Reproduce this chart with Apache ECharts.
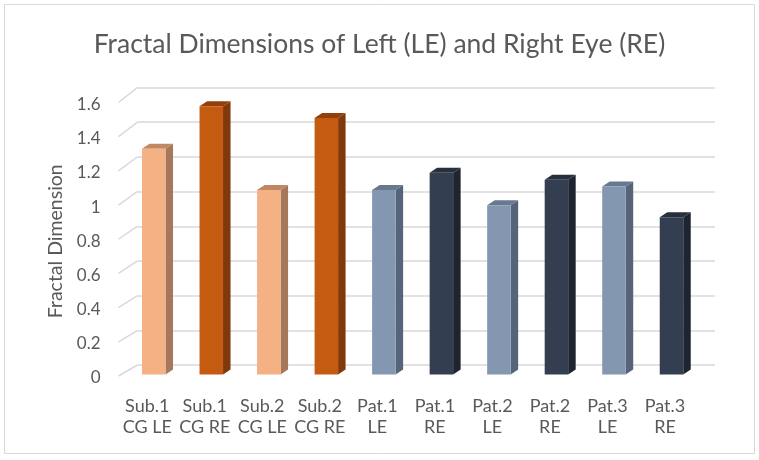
<!DOCTYPE html>
<html>
<head>
<meta charset="utf-8">
<title>Fractal Dimensions</title>
<script src="https://cdn.jsdelivr.net/npm/echarts@6/dist/echarts.min.js"></script>
<style>
  html, body { margin: 0; padding: 0; background: #fff; }
  #chart { width: 759px; height: 460px; }
</style>
</head>
<body>
<div id="chart"></div>
<script>
// data
const categories = ['Sub.1\nCG LE', 'Sub.1\nCG RE', 'Sub.2\nCG LE', 'Sub.2\nCG RE',
                    'Pat.1\nLE', 'Pat.1\nRE', 'Pat.2\nLE', 'Pat.2\nRE', 'Pat.3\nLE', 'Pat.3\nRE'];
const values = [1.32, 1.57, 1.08, 1.50, 1.08, 1.18, 0.99, 1.14, 1.10, 0.92];
const yTicks = [0, 0.2, 0.4, 0.6, 0.8, 1.0, 1.2, 1.4, 1.6];

// face colours: front / side / top
const palette = {
    subLE: ['#F4B183', '#A6775A', '#BF8863'],
    subRE: ['#C55A11', '#7F390B', '#933F0C'],
    patLE: ['#8497B0', '#56647A', '#68788F'],
    patRE: ['#333F50', '#1E2530', '#27303D']
};

function kindOf(name) {
    const grp = name.indexOf('Sub') === 0 ? 'sub' : 'pat';
    return grp + (name.indexOf('LE') >= 0 ? 'LE' : 'RE');
}

const FONT = 'Lato';
const TXT = '#595959';
const DX = 7.5, DY = -5;   // bar depth

const chart = echarts.init(document.getElementById('chart'));

const option = {
    backgroundColor: '#fff',
    animation: false,
    title: {
        text: 'Fractal Dimensions of Left (LE) and Right Eye (RE)',
        left: 'center',
        top: 26,
        textStyle: { fontFamily: FONT, fontSize: 26.5, fontWeight: 'normal', color: TXT }
    },
    graphic: [{
        type: 'rect',
        shape: { x: 4.5, y: 4.5, width: 750, height: 449 },
        style: { fill: 'none', stroke: '#d9d9d9', lineWidth: 1 },
        silent: true
    }],
    grid: [
        // front plane: labels + bars
        { left: 118.5, right: 65.25, top: 104.5, bottom: 82 },
        // back wall: gridlines
        { left: 137.5, right: 44, top: 87.5, bottom: 95 }
    ],
    xAxis: [
        {
            type: 'category', gridIndex: 0, data: categories,
            axisLine: { show: false }, axisTick: { show: false },
            axisLabel: { fontFamily: FONT, fontSize: 18, color: TXT, lineHeight: 21.5, margin: 17, interval: 0 }
        },
        { type: 'value', gridIndex: 1, show: false, min: 0, max: 1 }
    ],
    yAxis: [
        {
            type: 'value', gridIndex: 0, min: 0, max: 1.6, interval: 0.2,
            name: 'Fractal Dimension', nameLocation: 'middle', nameGap: 48,
            nameTextStyle: { fontFamily: FONT, fontSize: 19.5, color: TXT },
            axisLine: { show: false }, axisTick: { show: false }, splitLine: { show: false },
            axisLabel: { fontFamily: FONT, fontSize: 17, color: TXT, margin: 18,
                         formatter: v => String(+v.toFixed(1)) }
        },
        {
            type: 'value', gridIndex: 1, min: 0, max: 1.6, interval: 0.2,
            axisLine: { show: false }, axisTick: { show: false }, axisLabel: { show: false },
            splitLine: { lineStyle: { color: '#d9d9d9', width: 1.5 } }
        }
    ],
    series: [
        {
            // diagonal lines joining front labels to the back wall
            type: 'custom',
            xAxisIndex: 0, yAxisIndex: 0,
            silent: true,
            data: yTicks.map(v => [0, v]),
            renderItem: function (params, api) {
                const v = api.value(1);
                const y = api.coord([0, v])[1];
                const x0 = params.coordSys.x;
                return {
                    type: 'line',
                    shape: { x1: x0, y1: y - 2, x2: x0 + 19, y2: y - 13 - v * 2.6 },
                    style: { stroke: '#d9d9d9', lineWidth: 1.5 }
                };
            }
        },
        {
            type: 'custom',
            xAxisIndex: 0, yAxisIndex: 0,
            data: values.map((v, i) => [i, v]),
            renderItem: function (params, api) {
                const i = api.value(0);
                const v = api.value(1);
                const base = api.coord([i, 0]);
                const top = api.coord([i, v]);
                const cols = palette[kindOf(categories[i])];
                const w = 23.5;
                const xc = base[0] + 6.5;
                const xl = xc - w / 2, xr = xc + w / 2;
                const yb = base[1] - 3.5, yt = top[1] - 3.5;
                return {
                    type: 'group',
                    children: [
                        { type: 'polygon', shape: { points: [[xr, yt], [xr + DX, yt + DY], [xr + DX, yb + DY], [xr, yb]] },
                          style: { fill: cols[1] } },
                        { type: 'polygon', shape: { points: [[xl, yt], [xl + DX, yt + DY], [xr + DX, yt + DY], [xr, yt]] },
                          style: { fill: cols[2] } },
                        { type: 'rect', shape: { x: xl, y: yt, width: w, height: yb - yt },
                          style: { fill: cols[0] } }
                    ]
                };
            }
        }
    ]
};

chart.setOption(option);

window.addEventListener('resize', () => {
    chart.resize();
});
</script>
</body>
</html>
